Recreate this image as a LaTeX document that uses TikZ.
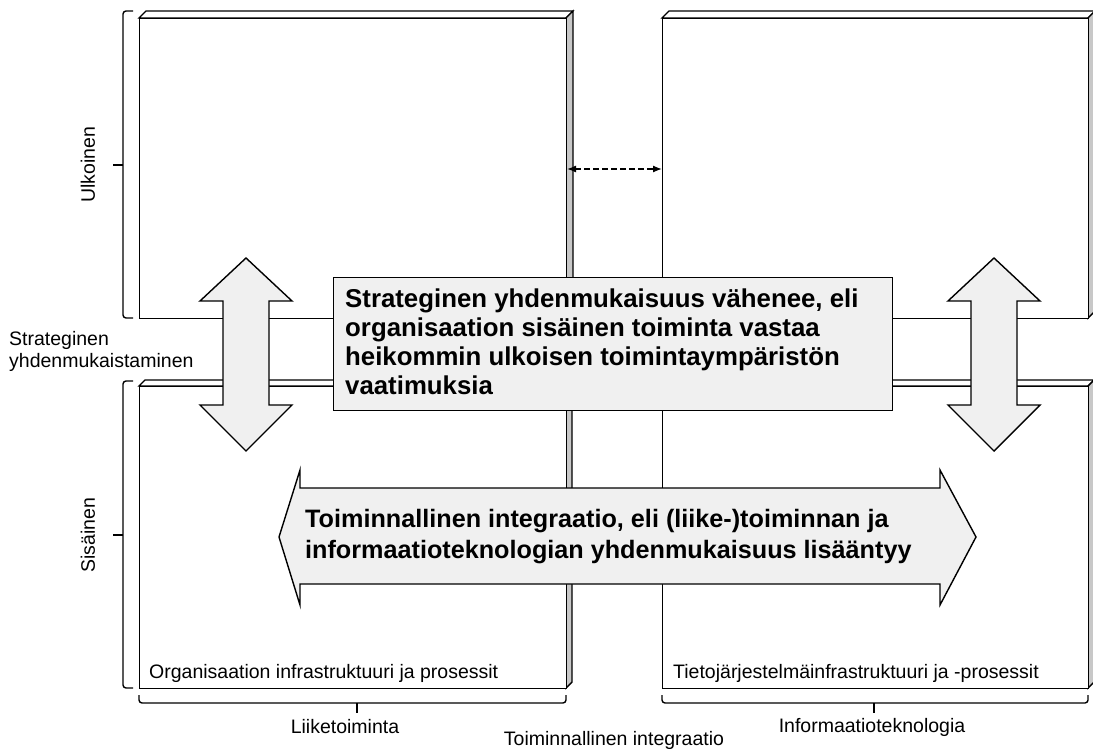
\documentclass[tikz,border=0pt]{standalone}
\usepackage{fontspec}
\setmainfont{Liberation Sans}
\usetikzlibrary{arrows.meta}
\definecolor{sidegray}{HTML}{C8C8C8}
\definecolor{panelfill}{HTML}{F0F0F0}
\tikzset{
  edge/.style={draw=black, line width=1.4pt, line join=miter},
  face/.style={edge, fill=white},
  side/.style={edge, fill=sidegray},
  brace/.style={draw=black, line width=1.4pt, rounded corners=3pt},
  bigarrow/.style={edge, fill=panelfill},
  label/.style={font=\fontsize{19.5}{22}\selectfont, inner sep=0pt},
  boldtext/.style={font=\fontsize{25.8}{29}\selectfont\bfseries, align=left, inner sep=0pt},
}
\begin{document}
\begin{tikzpicture}[x=1pt,y=-1pt]
\useasboundingbox (0,0) rectangle (1093,749);

% ---- four bevelled panels: top face, grey side face, white front face ----
\foreach \name/\xa/\ya/\xb/\yb/\d in {tl/139/18/566/318/7, tr/662/18/1088/318/7, bl/139/386/566/688/6, br/662/386/1088/688/6}{
  \path[face] (\xa,\ya) -- (\xa+\d,\ya-\d) -- (\xb+\d,\ya-\d) -- (\xb,\ya) -- cycle;
  \path[side] (\xb,\ya) -- (\xb+\d,\ya-\d) -- (\xb+\d,\yb-\d) -- (\xb,\yb) -- cycle;
  \node[face, anchor=north west, minimum width=\xb-\xa, minimum height=\yb-\ya, inner sep=0pt] (\name) at (\xa,\ya) {};
}

\node[label, anchor=base west] (orginfra) at (149,678) {Organisaation infrastruktuuri ja prosessit};
\node[label, anchor=base west] (isinfra) at (673,678) {Tietojärjestelmäinfrastruktuuri ja -prosessit};

% ---- dashed link between the upper panels ----
\coordinate (dl) at (567,169);
\coordinate (dr) at (662,169);
\draw[dash pattern=on 6pt off 3pt, line width=1.3pt, {Latex[length=9pt,width=7pt]}-{Latex[length=9pt,width=7pt]}] (dl) -- (dr);

% ---- left brackets ----
\draw[brace] (133,11) -- (123,11) -- (123,318) -- (133,318);
\draw[brace] (123,165) -- (113,165);
\draw[brace] (133,381) -- (123,381) -- (123,688) -- (133,688);
\draw[brace] (123,535) -- (113,535);
\node[label, rotate=90] (ulk) at (88,165) {Ulkoinen};
\node[label, rotate=90] (sis) at (88,535) {Sisäinen};
\node[label, anchor=west, align=left] (sy) at (9,351) {Strateginen\\yhdenmukaistaminen};

% ---- bottom brackets ----
\draw[brace] (139,695) -- (139,703) -- (566,703) -- (566,695);
\draw[brace] (357,703) -- (357,713);
\draw[brace] (662,695) -- (662,703) -- (1088,703) -- (1088,695);
\draw[brace] (874,703) -- (874,713);
\node[label] (liike) at (345,727) {Liiketoiminta};
\node[label] (it) at (872,727) {Informaatioteknologia};
\node[label] (ti) at (614,740) {Toiminnallinen integraatio};

% ---- vertical double arrows ----
\foreach \cx in {246,994}{
  \path[bigarrow] (\cx,258) -- (\cx+46,301) -- (\cx+23,301) -- (\cx+23,405) -- (\cx+46,405)
     -- (\cx,451) -- (\cx-46,405) -- (\cx-23,405) -- (\cx-23,301) -- (\cx-46,301) -- cycle;
}

% ---- strategic alignment statement ----
\node[bigarrow, anchor=north west, minimum width=559, minimum height=133, inner sep=0pt] (stmt) at (333,277) {};
\node[boldtext, anchor=west] (stmttext) at (345,342) {Strateginen yhdenmukaisuus vähenee, eli\\organisaation sisäinen toiminta vastaa\\heikommin ulkoisen toimintaympäristön\\vaatimuksia};

% ---- horizontal double arrow ----
\path[bigarrow] (279,537) -- (300,470) -- (300,488) -- (940,488) -- (940,470) -- (976,537)
   -- (940,605) -- (940,584) -- (300,584) -- (300,605) -- cycle;
\node[boldtext, anchor=west, font=\fontsize{25.2}{31}\selectfont\bfseries] (inttext) at (305,537) {Toiminnallinen integraatio, eli (liike-)toiminnan ja\\informaatioteknologian yhdenmukaisuus lisääntyy};
\end{tikzpicture}
\end{document}
